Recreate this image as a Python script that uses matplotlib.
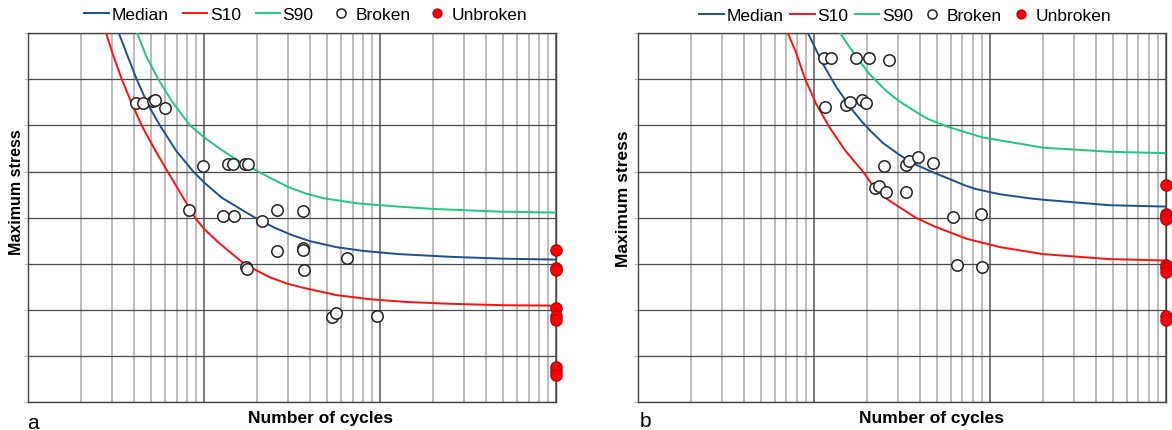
import matplotlib
matplotlib.use("Agg")
import matplotlib.pyplot as plt
from matplotlib.ticker import LogLocator, NullFormatter, MultipleLocator

plt.rcParams["font.family"] = ["Liberation Sans", "DejaVu Sans"]

# ---- panel a ----
a_median_n = [32700, 36300, 41300, 47900, 56000, 69200, 86600, 100000, 125900, 158500,
              194100, 251200, 316200, 398100, 562300, 794300, 1259000, 2512000, 5012000, 1e7]
a_median_s = [8.0, 7.55, 7.0, 6.45, 6.0, 5.45, 5.0, 4.76, 4.43, 4.20,
              4.0, 3.78, 3.62, 3.49, 3.36, 3.28, 3.21, 3.15, 3.11, 3.09]
a_s10_n = [27700, 30500, 34000, 38500, 44100, 51900, 61900, 74100, 88500, 100000, 123000,
           168300, 190500, 234400, 295100, 363100, 562300, 871000, 1413000, 2512000, 5012000, 1e7]
a_s10_s = [8.0, 7.5, 7.0, 6.5, 6.0, 5.5, 5.0, 4.5, 4.0, 3.75, 3.43,
           3.0, 2.89, 2.71, 2.57, 2.48, 2.32, 2.23, 2.17, 2.13, 2.10, 2.09]
a_s90_n = [41600, 46800, 54800, 66100, 83000, 100000, 123000, 158500, 202800, 239900,
           302000, 380200, 478600, 741300, 1259000, 1995000, 4786000, 1e7]
a_s90_s = [8.0, 7.5, 7.0, 6.5, 6.0, 5.74, 5.49, 5.22, 5.0, 4.85,
           4.66, 4.52, 4.42, 4.31, 4.24, 4.19, 4.13, 4.11]
a_broken_n = [40700, 45000, 51300, 52500, 59800, 98000, 136800, 146200, 170200, 176600,
              82200, 127400, 147900, 212800, 257600, 365600, 257600, 365600, 365600, 368100,
              644200, 172600, 173800, 533300, 558500, 961600]
a_broken_s = [6.48, 6.49, 6.54, 6.55, 6.39, 5.12, 5.17, 5.17, 5.17, 5.17,
              4.17, 4.03, 4.03, 3.93, 4.17, 4.14, 3.28, 3.34, 3.30, 2.87,
              3.12, 2.94, 2.89, 1.84, 1.93, 1.86]
a_unbroken_n = [1e7, 1e7, 1e7, 1e7, 1e7, 1e7, 1e7, 1e7, 1e7]
a_unbroken_s = [3.30, 2.91, 2.86, 2.05, 1.87, 1.79, 0.75, 0.68, 0.59]

# ---- panel b ----
b_median_n = [92900, 113000, 134600, 167100, 186200, 208000, 247200, 307600, 365600, 465600,
              734500, 837500, 1135000, 1679000, 1995000, 4786000, 1e7]
b_median_s = [8.0, 7.33, 6.83, 6.32, 6.10, 5.90, 5.62, 5.36, 5.18, 5.0,
              4.69, 4.62, 4.51, 4.42, 4.39, 4.27, 4.24]
b_s10_n = [71450, 79430, 89130, 103500, 123000, 151400, 190500, 223900, 257000, 309000,
           380200, 478600, 741300, 1148000, 1995000, 4786000, 1e7]
b_s10_s = [8.0, 7.58, 7.02, 6.46, 5.96, 5.45, 5.00, 4.62, 4.42, 4.22,
           4.00, 3.82, 3.54, 3.36, 3.21, 3.10, 3.07]
b_s90_n = [141600, 158500, 177800, 208000, 258200, 307600, 371500, 445700, 590200, 912000,
           1679000, 1995000, 4786000, 1e7]
b_s90_s = [8.0, 7.72, 7.45, 7.11, 6.75, 6.52, 6.32, 6.14, 5.96, 5.74,
           5.57, 5.52, 5.43, 5.40]
b_broken_n = [114000, 124700, 174600, 206100, 267300, 115300, 153100, 160000, 187900, 197200,
              250600, 221800, 233900, 258200, 332700, 347500, 392600, 475300, 335700,
              616600, 893300, 650100, 901600]
b_broken_s = [7.47, 7.47, 7.47, 7.47, 7.43, 6.41, 6.44, 6.52, 6.56, 6.48,
              5.12, 4.64, 4.68, 4.56, 5.15, 5.24, 5.31, 5.18, 4.56,
              4.01, 4.09, 2.97, 2.93]
b_unbroken_n = [1e7, 1e7, 1e7, 1e7, 1e7, 1e7, 1e7, 1e7, 1e7]
b_unbroken_s = [4.71, 4.08, 4.03, 3.97, 2.97, 2.90, 2.83, 1.86, 1.79]

BLUE = "#1f4e8f"
RED = "#ff1010"
GREEN = "#1ec97d"


def draw_panel(ax, med, s10, s90, broken, unbroken, leg_x, leg_y, colspace):
    ax.set_xscale("log")
    ax.set_xlim(1e4, 1e7)
    ax.set_ylim(0, 8)

    ax.xaxis.set_major_locator(LogLocator(base=10, numticks=10))
    ax.xaxis.set_minor_locator(LogLocator(base=10, subs=range(2, 10), numticks=20))
    ax.xaxis.set_major_formatter(NullFormatter())
    ax.xaxis.set_minor_formatter(NullFormatter())
    ax.yaxis.set_major_locator(MultipleLocator(1))
    ax.yaxis.set_major_formatter(NullFormatter())
    ax.tick_params(axis="x", which="both", length=0)
    ax.tick_params(axis="y", which="major", length=3, color="#bbbbbb")

    ax.grid(True, axis="x", which="minor", color="#a8a8a8", lw=1.1)
    ax.grid(True, axis="x", which="major", color="#555555", lw=1.1)
    ax.grid(True, axis="y", which="major", color="#4a4a4a", lw=0.9)
    ax.set_axisbelow(True)
    for sp in ax.spines.values():
        sp.set_color("#444444")
        sp.set_linewidth(1.0)

    ax.plot(med[0], med[1], color=BLUE, lw=1.4, label="Median", zorder=3)
    ax.plot(s10[0], s10[1], color=RED, lw=1.4, label="S10", zorder=3)
    ax.plot(s90[0], s90[1], color=GREEN, lw=1.4, label="S90", zorder=3)
    ax.plot(broken[0], broken[1], "o", ms=8.2, mfc="white", mec="#222222", mew=1.1,
            label="Broken", zorder=4)
    ax.plot(unbroken[0], unbroken[1], "o", ms=8.2, mfc="#ff0000", mec="#b00000", mew=0.8,
            label="Unbroken", zorder=5, clip_on=False)

    ax.legend(loc="center", bbox_to_anchor=(leg_x, leg_y), ncol=5, frameon=False,
              fontsize=12.5, handlelength=1.4, handletextpad=0.15, columnspacing=colspace,
              borderaxespad=0, borderpad=0, numpoints=1, markerscale=0.8)


fig = plt.figure(figsize=(11.72, 4.31), dpi=100)
W, H = 1172, 431
ax_a = fig.add_axes([28.3 / W, 28 / H, 528 / W, 368.7 / H])
ax_b = fig.add_axes([637.7 / W, 28 / H, 528 / W, 368.7 / H])

draw_panel(ax_a, (a_median_n, a_median_s), (a_s10_n, a_s10_s), (a_s90_n, a_s90_s),
           (a_broken_n, a_broken_s), (a_unbroken_n, a_unbroken_s), 0.526, 1.052, 0.85)
draw_panel(ax_b, (b_median_n, b_median_s), (b_s10_n, b_s10_s), (b_s90_n, b_s90_s),
           (b_broken_n, b_broken_s), (b_unbroken_n, b_unbroken_s), 0.507, 1.048, 0.4)

# axis titles and panel letters
fig.text(16.7 / W, 1 - 192.5 / H, "Maximum stress", rotation=90, ha="center", va="center",
         fontsize=11.5, fontweight="bold")
fig.text(623.0 / W, 1 - 199 / H, "Maximum stress", rotation=90, ha="center", va="center",
         fontsize=12.5, fontweight="bold")
fig.text(321 / W, 1 - 423.5 / H, "Number of cycles", ha="center", va="baseline",
         fontsize=12.5, fontweight="bold")
fig.text(932 / W, 1 - 423.5 / H, "Number of cycles", ha="center", va="baseline",
         fontsize=12.5, fontweight="bold")
fig.text(27 / W, 1 - 429 / H, "a", ha="left", va="baseline", fontsize=15)
fig.text(640 / W, 1 - 427 / H, "b", ha="left", va="baseline", fontsize=15)

fig.savefig("out.png", dpi=100)
